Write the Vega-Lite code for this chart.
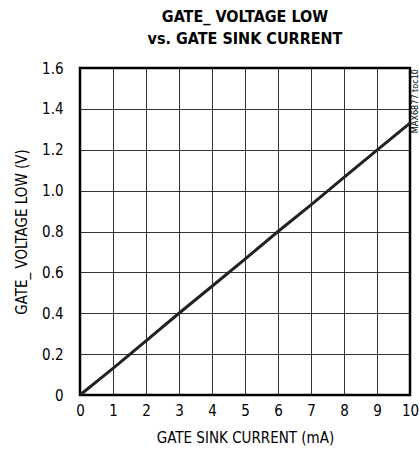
{
  "$schema": "https://vega.github.io/schema/vega-lite/v6.json",
  "width": 330,
  "height": 327,
  "autosize": "none",
  "padding": {"left": 80, "top": 68, "right": 9, "bottom": 65},
  "background": "white",
  "title": {
    "text": ["GATE_ VOLTAGE LOW", "vs. GATE SINK CURRENT"],
    "font": "DejaVu Sans Condensed",
    "fontSize": 16,
    "fontWeight": "bold",
    "color": "black",
    "anchor": "middle",
    "offset": 14,
    "lineHeight": 22
  },
  "config": {
    "view": {"stroke": "black", "strokeWidth": 2.5},
    "axis": {
      "labelFont": "DejaVu Sans Condensed",
      "titleFont": "DejaVu Sans Condensed",
      "labelFontSize": 15,
      "titleFontSize": 15,
      "titleFontWeight": "normal",
      "labelColor": "black",
      "titleColor": "black",
      "gridColor": "black",
      "gridOpacity": 1,
      "gridWidth": 0.8,
      "ticks": false,
      "domain": false
    }
  },
  "data": {
    "values": [
      {"current": 0, "voltage": 0},
      {"current": 1, "voltage": 0.13},
      {"current": 2, "voltage": 0.265},
      {"current": 3, "voltage": 0.4},
      {"current": 4, "voltage": 0.532},
      {"current": 5, "voltage": 0.665},
      {"current": 6, "voltage": 0.8},
      {"current": 7, "voltage": 0.93},
      {"current": 8, "voltage": 1.065},
      {"current": 9, "voltage": 1.198},
      {"current": 10, "voltage": 1.33}
    ]
  },
  "encoding": {
    "x": {
      "field": "current",
      "type": "quantitative",
      "scale": {"domain": [0, 10], "nice": false},
      "axis": {
        "values": [0, 1, 2, 3, 4, 5, 6, 7, 8, 9, 10],
        "title": "GATE SINK CURRENT (mA)",
        "labelPadding": 8,
        "titlePadding": 12,
        "labelFlush": false,
        "labelOverlap": false
      }
    },
    "y": {
      "field": "voltage",
      "type": "quantitative",
      "scale": {"domain": [0, 1.6], "nice": false},
      "axis": {
        "values": [0, 0.2, 0.4, 0.6, 0.8, 1.0, 1.2, 1.4, 1.6],
        "labelExpr": "datum.value == 0 ? '0' : format(datum.value, '.1f')",
        "title": "GATE_ VOLTAGE LOW (V)",
        "labelPadding": 17,
        "titlePadding": 12,
        "labelFlush": false,
        "labelOverlap": false
      }
    }
  },
  "layer": [
    {
      "mark": {"type": "line", "color": "#222222", "strokeWidth": 3}
    },
    {
      "data": {"values": [{"current": 10, "voltage": 1.6, "label": "MAX6877 toc10"}]},
      "mark": {"type": "text", "angle": 270, "font": "DejaVu Sans Condensed", "fontSize": 9, "color": "black", "align": "right", "baseline": "middle", "dx": -1, "dy": 5},
      "encoding": {
        "text": {"field": "label"}
      }
    }
  ]
}
